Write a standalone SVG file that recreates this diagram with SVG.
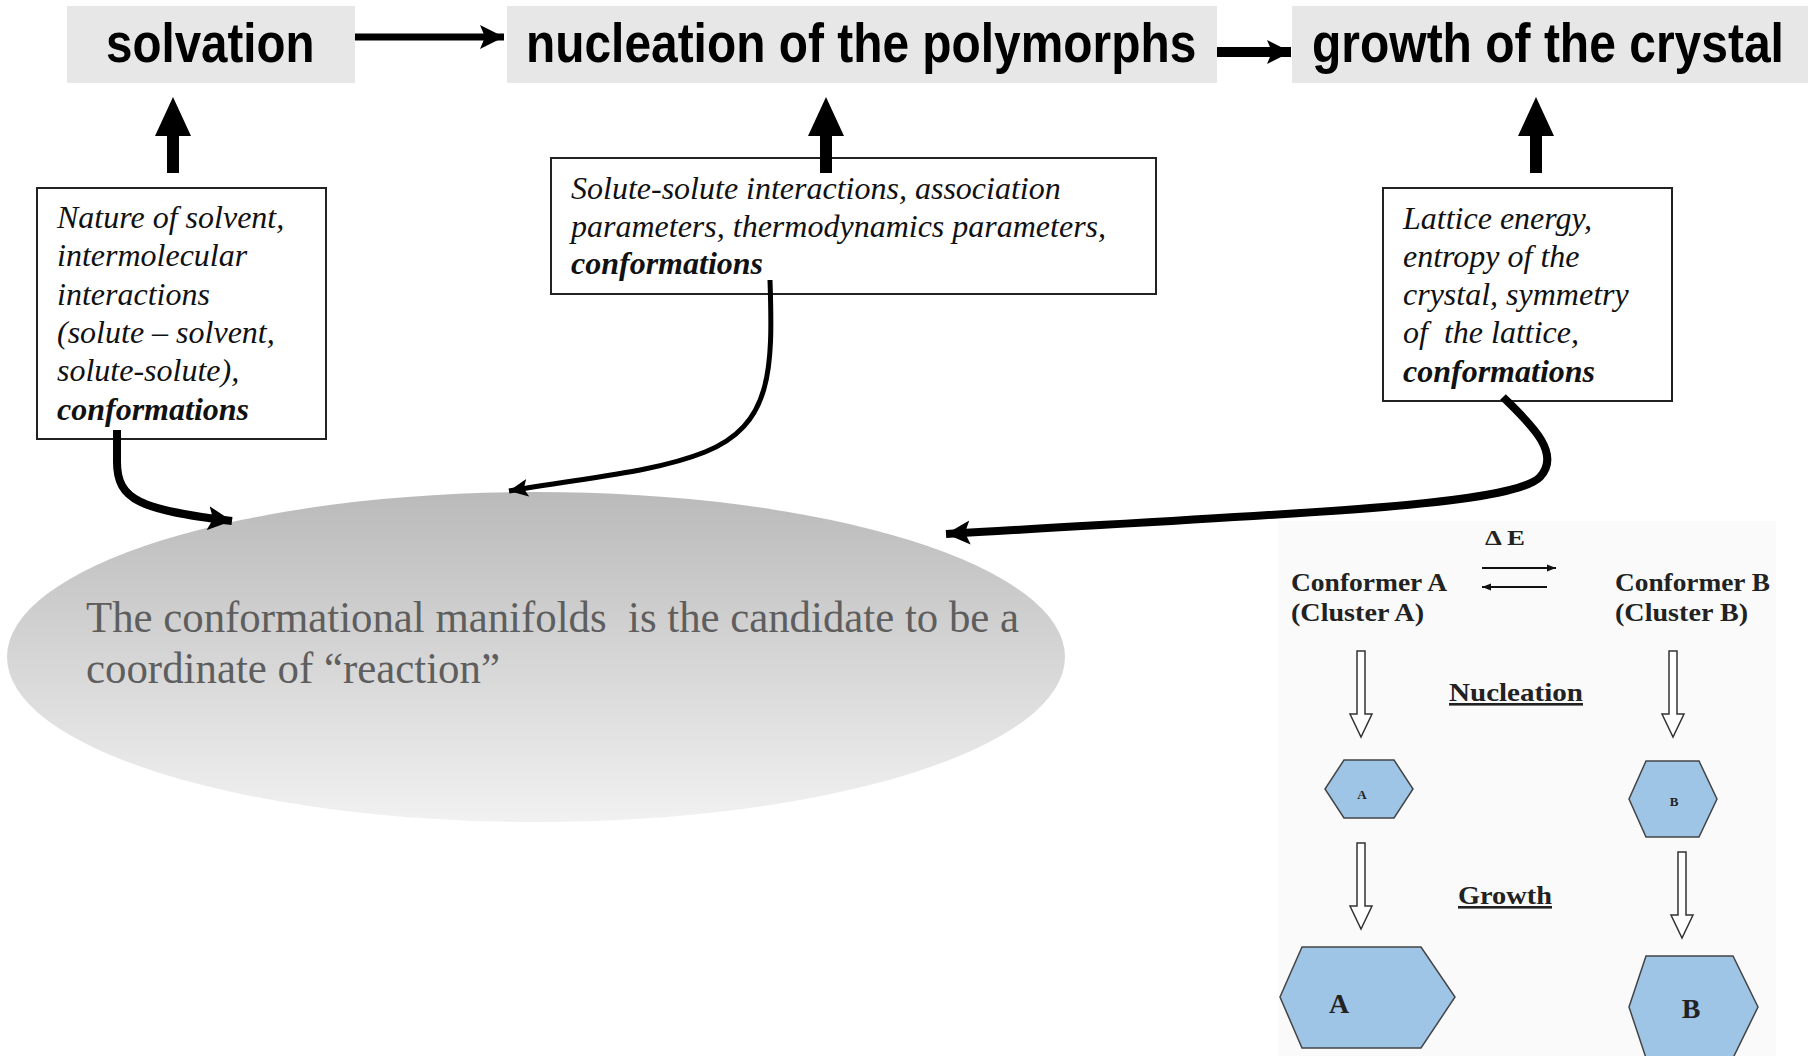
<svg xmlns="http://www.w3.org/2000/svg" width="1808" height="1056" viewBox="0 0 1808 1056">
<defs>
  <linearGradient id="ellGrad" x1="0" y1="0" x2="0" y2="1">
    <stop offset="0" stop-color="#bababa"/>
    <stop offset="1" stop-color="#f1f1f1"/>
  </linearGradient>
  <marker id="headBig" markerUnits="userSpaceOnUse" markerWidth="26" markerHeight="26" viewBox="0 0 26 26" refX="24" refY="13" orient="auto">
    <path d="M0,1 L24,13 L0,25 L5,13 Z" fill="#000"/>
  </marker>
  <marker id="headMid" markerUnits="userSpaceOnUse" markerWidth="20" markerHeight="20" viewBox="0 0 20 20" refX="19" refY="10" orient="auto">
    <path d="M0,1 L19,10 L0,19 L4,10 Z" fill="#000"/>
  </marker>
  <marker id="headSmall" markerUnits="userSpaceOnUse" markerWidth="10" markerHeight="10" viewBox="0 0 10 10" refX="9" refY="5" orient="auto">
    <path d="M0,1.5 L9,5 L0,8.5 Z" fill="#111"/>
  </marker>
</defs>
<style>
  .title { fill:#e7e7e7; }
  .titleText { font-family:"Liberation Sans", Arial, sans-serif; font-weight:bold; font-size:56px; fill:#000; }
  .box { fill:#fff; stroke:#222; stroke-width:2; }
  .boxText { font-family:"Liberation Serif", "Times New Roman", serif; font-style:italic; font-size:32px; fill:#111; white-space:pre; }
  .bold { font-weight:bold; }
  .ellText { font-family:"Liberation Serif", "Times New Roman", serif; font-size:44px; fill:#5e5e5e; white-space:pre; }
  .conn { fill:none; stroke:#000; }
  .pText { font-family:"Liberation Serif", "Times New Roman", serif; font-weight:bold; fill:#222; }
  .hex { fill:#9ec4e6; stroke:#444; stroke-width:1.5; }
  .hollow { fill:#fff; stroke:#333; stroke-width:1.5; }
</style>

<!-- title nodes -->
<g id="solvation">
  <rect class="title" x="67" y="6" width="288" height="77"/>
  <text class="titleText" x="0" y="0" transform="translate(106,62) scale(0.855,1)" textLength="244" lengthAdjust="spacingAndGlyphs">solvation</text>
</g>
<g id="nucleation">
  <rect class="title" x="507" y="6" width="710" height="77"/>
  <text class="titleText" x="0" y="0" transform="translate(526,62) scale(0.855,1)" textLength="784" lengthAdjust="spacingAndGlyphs">nucleation of the polymorphs</text>
</g>
<g id="growth">
  <rect class="title" x="1292" y="6" width="516" height="77"/>
  <text class="titleText" x="0" y="0" transform="translate(1312,62) scale(0.855,1)" textLength="552" lengthAdjust="spacingAndGlyphs">growth of the crystal</text>
</g>

<!-- factor boxes -->
<g id="factors-solvation">
  <rect class="box" x="37" y="188" width="289" height="251"/>
  <text class="boxText" x="57" y="228">Nature of solvent,</text>
  <text class="boxText" x="57" y="266">intermolecular</text>
  <text class="boxText" x="57" y="305">interactions</text>
  <text class="boxText" x="57" y="343">(solute – solvent,</text>
  <text class="boxText" x="57" y="381">solute-solute),</text>
  <text class="boxText bold" x="57" y="420">conformations</text>
</g>
<g id="factors-nucleation">
  <rect class="box" x="551" y="158" width="605" height="136"/>
  <text class="boxText" x="571" y="199">Solute-solute interactions, association</text>
  <text class="boxText" x="571" y="237">parameters, thermodynamics parameters,</text>
  <text class="boxText bold" x="571" y="274">conformations</text>
</g>
<g id="factors-growth">
  <rect class="box" x="1383" y="188" width="289" height="213"/>
  <text class="boxText" x="1403" y="229">Lattice energy,</text>
  <text class="boxText" x="1403" y="267">entropy of the</text>
  <text class="boxText" x="1403" y="305">crystal, symmetry</text>
  <text class="boxText" x="1403" y="343">of  the lattice,</text>
  <text class="boxText bold" x="1403" y="382">conformations</text>
</g>

<!-- ellipse node -->
<g id="manifold">
  <ellipse cx="536" cy="657" rx="529" ry="165" fill="url(#ellGrad)"/>
  <text class="ellText" x="86" y="632" textLength="933" lengthAdjust="spacingAndGlyphs">The conformational manifolds  is the candidate to be a</text>
  <text class="ellText" x="86" y="683" textLength="414" lengthAdjust="spacingAndGlyphs">coordinate of “reaction”</text>
</g>

<!-- conformer scheme panel -->
<g id="scheme">
  <rect x="1278" y="521" width="498" height="535" fill="#fafafa"/>
  <text class="pText" x="1485" y="545" font-size="20" textLength="40" lengthAdjust="spacingAndGlyphs">Δ E</text>
  <line x1="1482" y1="568" x2="1556" y2="568" stroke="#111" stroke-width="2" marker-end="url(#headSmall)"/>
  <line x1="1547" y1="587" x2="1482" y2="587" stroke="#111" stroke-width="2" marker-end="url(#headSmall)"/>
  <text class="pText" x="1291" y="591" font-size="26" textLength="156" lengthAdjust="spacingAndGlyphs">Conformer A</text>
  <text class="pText" x="1291" y="621" font-size="26" textLength="133" lengthAdjust="spacingAndGlyphs">(Cluster A)</text>
  <text class="pText" x="1615" y="591" font-size="26" textLength="155" lengthAdjust="spacingAndGlyphs">Conformer B</text>
  <text class="pText" x="1615" y="621" font-size="26" textLength="133" lengthAdjust="spacingAndGlyphs">(Cluster B)</text>
  <text class="pText" x="1449" y="701" font-size="26" textLength="134" lengthAdjust="spacingAndGlyphs" text-decoration="underline">Nucleation</text>
  <text class="pText" x="1458" y="904" font-size="26" textLength="94" lengthAdjust="spacingAndGlyphs" text-decoration="underline">Growth</text>
  <path class="hollow" d="M1357,651 h8 v63 h7 l-11,23 l-11,-23 h7 z"/>
  <path class="hollow" d="M1669,651 h8 v63 h7 l-11,23 l-11,-23 h7 z"/>
  <path class="hollow" d="M1357,843 h8 v63 h7 l-11,23 l-11,-23 h7 z"/>
  <path class="hollow" d="M1678,852 h8 v63 h7 l-11,23 l-11,-23 h7 z"/>
  <polygon class="hex" points="1344,760 1394,760 1413,789 1394,818 1344,818 1325,789"/>
  <text class="pText" x="1362" y="799" font-size="13" text-anchor="middle">A</text>
  <polygon class="hex" points="1646,761 1699,761 1717,799 1699,837 1646,837 1629,799"/>
  <text class="pText" x="1674" y="806" font-size="13" text-anchor="middle">B</text>
  <polygon class="hex" points="1302,947 1421,947 1455,997 1421,1048 1302,1048 1280,997"/>
  <text class="pText" x="1339" y="1013" font-size="28" text-anchor="middle">A</text>
  <polygon class="hex" points="1646,956 1733,956 1758,1007 1733,1058 1646,1058 1629,1007"/>
  <text class="pText" x="1691" y="1018" font-size="28" text-anchor="middle">B</text>
</g>

<!-- connectors -->
<g id="connectors">
  <!-- horizontal process arrows -->
  <line class="conn" x1="355" y1="37" x2="504" y2="37" stroke-width="7" marker-end="url(#headBig)"/>
  <line class="conn" x1="1217" y1="52" x2="1291" y2="52" stroke-width="10" marker-end="url(#headBig)"/>
  <!-- upward arrows -->
  <path d="M167,173 V136 H155 L173,97 L191,136 H179 V173 Z" fill="#000"/>
  <path d="M820,173 V136 H808 L826,97 L844,136 H832 V173 Z" fill="#000"/>
  <path d="M1530,173 V136 H1518 L1536,97 L1554,136 H1542 V173 Z" fill="#000"/>
  <!-- curved arrows to manifold -->
  <path class="conn" d="M117,430 L117,462 C117,500 140,510 232,521" stroke-width="8" marker-end="url(#headBig)"/>
  <path class="conn" d="M770,280 C773,370 772,425 705,452 C655,472 590,477 509,491" stroke-width="5" marker-end="url(#headMid)"/>
  <path class="conn" d="M1503,397 C1527,421 1563,452 1540,477 C1512,506 1300,513 946,534" stroke-width="8" marker-end="url(#headBig)"/>
</g>
</svg>
